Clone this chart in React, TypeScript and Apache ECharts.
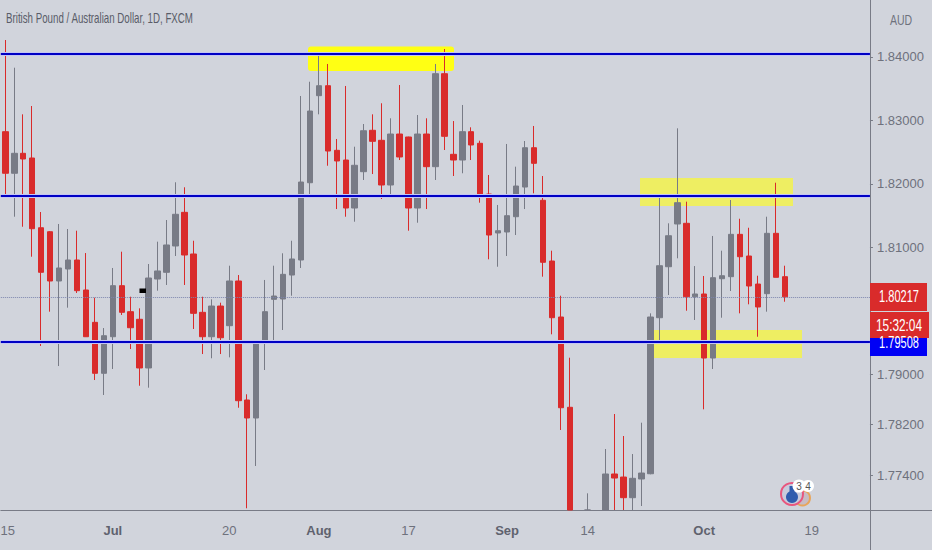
import React, { useEffect, useRef } from "react";
import * as echarts from "echarts";

const opens = [
  1.82822, 1.82166, 1.82481, 1.82407, 1.81307, 1.81244, 1.80467, 1.80656, 1.80798, 1.80325,
  1.79815, 1.79011, 1.79588, 1.80393, 1.79983, 1.79863, 1.79095, 1.80498, 1.80604, 1.81019,
  1.8155, 1.80893, 1.79973, 1.79588, 1.80072, 1.79762, 1.80467, 1.7859, 1.78306, 1.795,
  1.80178, 1.80183, 1.80561, 1.80798, 1.82017, 1.8339, 1.83547, 1.82528, 1.82375, 1.81618,
  1.82191, 1.82844, 1.82686, 1.81981, 1.82785, 1.82738, 1.81618, 1.82785, 1.8227, 1.83737,
  1.82465, 1.82375, 1.82822, 1.82639, 1.81839, 1.81224, 1.8124, 1.81481, 1.81949, 1.82569,
  1.8174, 1.80782, 1.79899, 1.78475, 1.765, 1.76855, 1.762, 1.76855, 1.77423, 1.77375,
  1.77049, 1.77344, 1.77427, 1.79888, 1.80692, 1.81366, 1.81377, 1.80219, 1.80262, 1.79252,
  1.80503, 1.80535, 1.81203, 1.80861, 1.80419, 1.80267, 1.81219, 1.80535,
];
const closes = [
  1.82166, 1.82481, 1.82391, 1.81292, 1.80604, 1.80467, 1.80672, 1.80798, 1.80314, 1.79588,
  1.79011, 1.79604, 1.80393, 1.79973, 1.7973, 1.79095, 1.80514, 1.80625, 1.81035, 1.81519,
  1.80877, 1.79957, 1.79588, 1.80072, 1.79572, 1.80467, 1.78579, 1.78306, 1.795, 1.79983,
  1.8023, 1.80572, 1.80814, 1.82028, 1.83148, 1.83547, 1.82517, 1.8236, 1.81618, 1.82292,
  1.82837, 1.8267, 1.81981, 1.82785, 1.82423, 1.81618, 1.82785, 1.8227, 1.83737, 1.82749,
  1.82375, 1.82822, 1.82612, 1.81823, 1.81192, 1.8126, 1.81497, 1.81965, 1.82569, 1.82323,
  1.80762, 1.79888, 1.78468, 1.76855, 1.76, 1.76855, 1.766, 1.77423, 1.77359, 1.77049,
  1.77355, 1.77438, 1.79899, 1.80708, 1.81181, 1.81702, 1.80219, 1.80262, 1.79252, 1.80519,
  1.8055, 1.81203, 1.8085, 1.80388, 1.80057, 1.81219, 1.80525, 1.80217,
];
const lows = [
  1.81823, 1.81481, 1.81323, 1.8085, 1.79442, 1.79983, 1.79126, 1.80046, 1.80278, 1.79584,
  1.78905, 1.78669, 1.79079, 1.79931, 1.79394, 1.78815, 1.78784, 1.80314, 1.80404, 1.80861,
  1.80404, 1.7971, 1.79315, 1.79248, 1.79315, 1.79263, 1.78468, 1.76882, 1.77549, 1.79063,
  1.79484, 1.79694, 1.80235, 1.80672, 1.81776, 1.83096, 1.82285, 1.81602, 1.81481, 1.81402,
  1.8206, 1.82154, 1.8176, 1.81812, 1.82375, 1.8126, 1.81386, 1.81602, 1.8206, 1.82533,
  1.82123, 1.82166, 1.82375, 1.81702, 1.80809, 1.80692, 1.80861, 1.81192, 1.81602, 1.8185,
  1.80535, 1.79626, 1.78117, 1.76855, 1.758, 1.76855, 1.76, 1.76855, 1.76855, 1.76855,
  1.76855, 1.76918, 1.77418, 1.7952, 1.80246, 1.80825, 1.79998, 1.79852, 1.78443, 1.79079,
  1.79888, 1.80309, 1.79957, 1.80099, 1.79588, 1.79983, 1.80525, 1.8014,
];
const highs = [
  1.84268, 1.83831, 1.83096, 1.83227, 1.81555, 1.81255, 1.81366, 1.81287, 1.8126, 1.80908,
  1.80203, 1.79725, 1.80672, 1.80929, 1.80219, 1.80036, 1.80735, 1.81087, 1.81429, 1.82024,
  1.81945, 1.81102, 1.80219, 1.80178, 1.80125, 1.80708, 1.80561, 1.7868, 1.79505, 1.80483,
  1.80708, 1.80904, 1.81102, 1.83385, 1.8361, 1.84058, 1.8389, 1.82707, 1.83543, 1.82585,
  1.82943, 1.83096, 1.8327, 1.83033, 1.83558, 1.82743, 1.83085, 1.83033, 1.8389, 1.84126,
  1.8299, 1.83243, 1.82891, 1.8268, 1.82139, 1.81666, 1.82628, 1.8227, 1.82675, 1.82912,
  1.82123, 1.80945, 1.80235, 1.79257, 1.767, 1.77118, 1.7675, 1.77817, 1.78369, 1.78022,
  1.77738, 1.78232, 1.79957, 1.81787, 1.81377, 1.82875, 1.81718, 1.80703, 1.80546, 1.81177,
  1.80945, 1.81744, 1.81449, 1.81307, 1.8055, 1.81481, 1.82017, 1.80708,
];

const barSlots = 97;
const tickSlots = [0, 12, 25, 35, 45, 56, 65, 78, 90];
const tickLabels = ["15", "Jul", "20", "Aug", "17", "Sep", "14", "Oct", "19"];
const monthLabels = ["Jul", "Aug", "Sep", "Oct"];
const priceTicks = [1.84, 1.83, 1.82, 1.81, 1.79, 1.782, 1.774];
const levels = [1.84047, 1.81812, 1.79508];
const lastPrice = 1.80217;
const title = "British Pound / Australian Dollar, 1D, FXCM";

const SANS = "'Liberation Sans', sans-serif";
const RED = "#d92b2b";
const GRAY = "#787b86";
const YELLOW_BRIGHT = "#ffff14";
const YELLOW_PALE = "#eeee62";

export default function App() {
  const ref = useRef<HTMLDivElement>(null);

  useEffect(() => {
    const chart = echarts.init(ref.current!, null, { renderer: "svg" });
    const categories = Array.from({ length: barSlots }, (_, i) => String(i));
    const candles = opens.map((o, i) => [o, closes[i], lows[i], highs[i]]);

    const tag = (x: number, y: number, w: number, h: number, fill: string, text: string, textY: number, sx: number) => [
      { type: "rect", z: 20, silent: true, shape: { x, y, width: w, height: h }, style: { fill } },
      {
        type: "text", z: 21, silent: true, x: 899, y: textY, scaleX: sx,
        style: { text, fill: "#fff", font: `16px ${SANS}`, textAlign: "center", textVerticalAlign: "middle" },
      },
    ];

    chart.setOption({
      animation: false,
      backgroundColor: "#d1d4dc",
      grid: { left: 0.82, top: 0, width: 869.12, height: 510, containLabel: false, outerBoundsMode: "none" },
      xAxis: {
        type: "category",
        data: categories,
        boundaryGap: true,
        axisLine: { lineStyle: { color: GRAY, width: 1 } },
        axisTick: {
          alignWithLabel: true,
          length: 3,
          interval: (i: number) => tickSlots.includes(i),
          lineStyle: { color: GRAY },
        },
        axisLabel: {
          interval: (i: number) => tickSlots.includes(i),
          margin: 14,
          hideOverlap: false,
          formatter: (_: string, i: number) => {
            const t = tickLabels[tickSlots.indexOf(i)] ?? "";
            if (i === tickSlots[0]) return `{f|${t}}`;
            return monthLabels.includes(t) ? `{m|${t}}` : `{d|${t}}`;
          },
          rich: {
            m: { fontFamily: SANS, fontSize: 13, fontWeight: "bold", color: "#5f626e" },
            d: { fontFamily: SANS, fontSize: 13, color: "#6e717c" },
            f: { fontFamily: SANS, fontSize: 13, color: "#6e717c", padding: [0, 0, 0, 5] },
          },
        },
        splitLine: { show: false },
      },
      yAxis: {
        type: "value",
        position: "right",
        min: 1.76855,
        max: 1.84899,
        axisLine: { show: true, lineStyle: { color: GRAY, width: 1 } },
        axisTick: { show: true, length: 3, customValues: priceTicks, lineStyle: { color: GRAY } },
        axisLabel: {
          customValues: priceTicks,
          margin: 7,
          color: "#6e717c",
          fontFamily: SANS,
          fontSize: 13,
          formatter: (v: number) => v.toFixed(5),
        },
        splitLine: { show: false },
      },
      series: [
        {
          type: "candlestick",
          data: candles,
          barWidth: 6,
          z: 3,
          itemStyle: {
            color: GRAY,
            color0: RED,
            borderColor: GRAY,
            borderColor0: RED,
            borderWidth: 1,
          },
          markLine: {
            silent: true,
            symbol: "none",
            precision: 5,
            label: { show: false },
            data: [
              {
                yAxis: lastPrice,
                lineStyle: { color: "#7d86ae", width: 1, type: "dotted" },
              },
              ...levels.map((yAxis) => ({
                yAxis,
                lineStyle: { color: "#c4c6f4", width: 4, type: "solid" },
              })),
              ...levels.map((yAxis) => ({
                yAxis,
                lineStyle: { color: "#0000c4", width: 2, type: "solid" },
              })),
            ],
          },
        },
      ],
      graphic: [
        { type: "rect", z: 1, silent: true, shape: { x: 308, y: 46.5, width: 146, height: 24.5, r: 3 }, style: { fill: YELLOW_BRIGHT } },
        { type: "rect", z: 1, silent: true, shape: { x: 640, y: 178, width: 153, height: 28 }, style: { fill: YELLOW_PALE } },
        { type: "rect", z: 1, silent: true, shape: { x: 653, y: 330, width: 149, height: 28 }, style: { fill: YELLOW_PALE } },
        { type: "rect", z: 4, silent: true, shape: { x: 139.5, y: 288.5, width: 6.5, height: 4.5 }, style: { fill: "#000" } },

        { type: "line", z: 2, silent: true, shape: { x1: 870, y1: 510.5, x2: 932, y2: 510.5 }, style: { stroke: GRAY, lineWidth: 1 } },
        { type: "line", z: 2, silent: true, shape: { x1: 870.5, y1: 510, x2: 870.5, y2: 550 }, style: { stroke: GRAY, lineWidth: 1 } },

        { type: "text", z: 5, silent: true, x: 6, y: 18, scaleX: 0.695, style: { text: title, fill: "#595c68", font: `14px ${SANS}`, textVerticalAlign: "middle" } },
        { type: "text", z: 5, silent: true, x: 901, y: 20, scaleX: 0.7, style: { text: "AUD", fill: "#6e717c", font: `15px ${SANS}`, textAlign: "center", textVerticalAlign: "middle" } },

        ...tag(870, 328, 57, 28, "#0000f5", "1.79508", 343, 0.69),
        ...tag(870, 283, 57, 28, RED, "1.80217", 297, 0.69),
        ...tag(870, 312, 59, 26, RED, "15:32:04", 325, 0.74),

        { type: "circle", z: 6, silent: true, shape: { cx: 802.5, cy: 498, r: 7.5 }, style: { fill: "#c8bcc4", stroke: "#e8a55a", lineWidth: 2 } },
        { type: "circle", z: 6, silent: true, shape: { cx: 792, cy: 494, r: 11 }, style: { fill: "#c9cbdc", stroke: "#e8567e", lineWidth: 2 } },
        { type: "circle", z: 6, silent: true, shape: { cx: 792, cy: 497, r: 6 }, style: { fill: "#2f5cae" } },
        { type: "rect", z: 6, silent: true, shape: { x: 789.5, y: 486, width: 5, height: 8 }, style: { fill: "#2f5cae" } },
        { type: "circle", z: 7, silent: true, shape: { cx: 799, cy: 486, r: 6.5 }, style: { fill: "#fff" } },
        { type: "circle", z: 7, silent: true, shape: { cx: 808, cy: 486, r: 6 }, style: { fill: "#fff" } },
        { type: "text", z: 8, silent: true, x: 799, y: 486, style: { text: "3", fill: "#555", font: `10px ${SANS}`, textAlign: "center", textVerticalAlign: "middle" } },
        { type: "text", z: 8, silent: true, x: 808, y: 486, style: { text: "4", fill: "#555", font: `10px ${SANS}`, textAlign: "center", textVerticalAlign: "middle" } },
      ],
    });

    return () => chart.dispose();
  }, []);

  return (
    <div
      ref={ref}
      style={{ position: "fixed", left: 0, top: 0, width: 932, height: 550 }}
    />
  );
}
